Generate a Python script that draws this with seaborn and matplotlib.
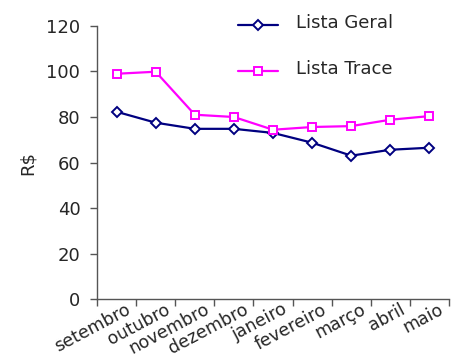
import matplotlib
matplotlib.use("Agg")
import matplotlib.pyplot as plt
import matplotlib.transforms as mtransforms
import seaborn as sns

# data
months = ['setembro', 'outubro', 'novembro', 'dezembro', 'janeiro',
          'fevereiro', 'março', 'abril', 'maio']
lista_geral = [82.3, 77.5, 74.8, 74.8, 73.0, 68.7, 63.0, 65.6, 66.5]
lista_trace = [99.0, 99.9, 81.0, 80.0, 74.4, 75.6, 76.0, 78.8, 80.4]

sns.set_style('ticks')
plt.rcParams['font.family'] = ['DejaVu Sans']

fig = plt.figure(figsize=(4.54, 3.6), dpi=100)
ax = fig.add_axes([0.2137, 0.1694, 0.7753, 0.7584])

# one call per series so each gets its own open marker
sns.lineplot(x=months, y=lista_geral, sort=False, color='#000080',
             marker='D', markersize=5.5, markerfacecolor='white',
             markeredgecolor='#000080', markeredgewidth=1.4,
             linewidth=1.6, label='Lista Geral', ax=ax)
sns.lineplot(x=months, y=lista_trace, sort=False, color='#FF00FF',
             marker='s', markersize=6, markerfacecolor='white',
             markeredgecolor='#FF00FF', markeredgewidth=1.4,
             linewidth=1.6, label='Lista Trace', ax=ax)

ax.set_ylim(0, 120)
ax.set_xlim(-0.5, len(months) - 0.5)
ax.set_yticks(range(0, 121, 20))
ax.tick_params(axis='y', labelsize=13, length=5, width=1, color='#555555', pad=7)

# category labels at centers, tick marks at boundaries
ax.set_xticks(range(len(months)))
ax.set_xticklabels(months, rotation=28, ha='right', va='top',
                   rotation_mode='anchor', fontsize=12.5)
ax.tick_params(axis='x', which='major', length=0, pad=1)
ax.set_xticks([i - 0.5 for i in range(len(months) + 1)], minor=True)
ax.tick_params(axis='x', which='minor', length=5, width=1, color='#555555')
offset = mtransforms.ScaledTranslation(9 / 100, 0, fig.dpi_scale_trans)
for lbl in ax.get_xticklabels():
    lbl.set_transform(lbl.get_transform() + offset)

ax.set_xlabel('')
ax.set_ylabel('R$', fontsize=13, labelpad=7)

for side in ['top', 'right']:
    ax.spines[side].set_visible(False)
for side in ['left', 'bottom']:
    ax.spines[side].set_color('#555555')
    ax.spines[side].set_linewidth(1)

leg = ax.legend(frameon=False, fontsize=13, loc='upper left',
                bbox_to_anchor=(0.40, 1.03), borderaxespad=0, borderpad=0,
                labelspacing=1.55, handlelength=2.2, handletextpad=1.0)
for t in leg.get_texts():
    t.set_va('bottom')

fig.savefig('out.png', dpi=100)
plt.close(fig)
